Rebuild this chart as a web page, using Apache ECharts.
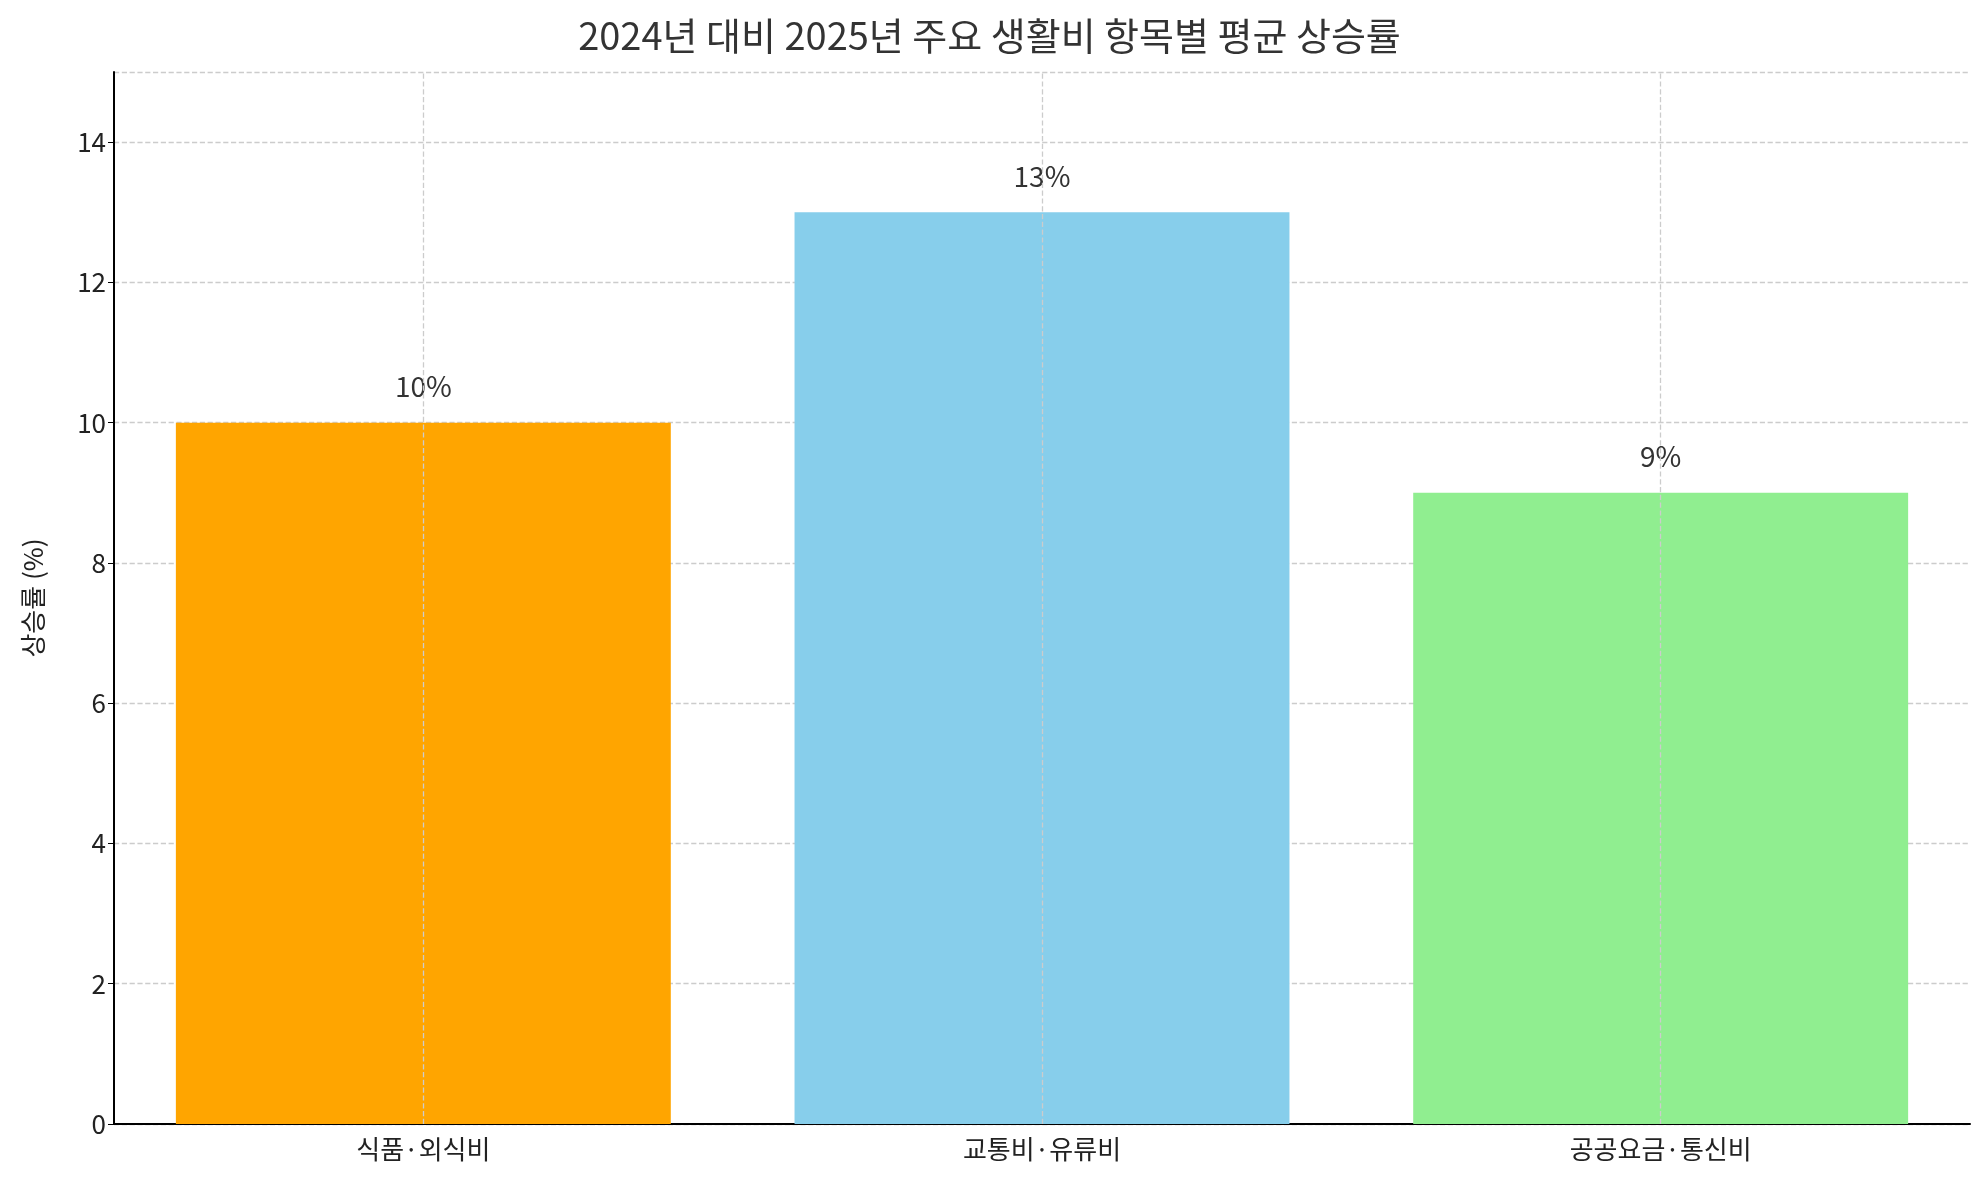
<!DOCTYPE html>
<html><head><meta charset="utf-8">
<script src="https://cdn.jsdelivr.net/npm/echarts@6/dist/echarts.min.js"></script>
<style>html,body{margin:0;padding:0;background:#fff}#c{width:1979px;height:1180px}</style>
</head><body><div id="c"></div>
<script>
const categories = ['식품·외식비','교통비·유류비','공공요금·통신비'];
const values = [10, 13, 9];
const colors = ['#FFA500','#87CEEB','#90EE90'];
const F = '"Noto Sans CJK KR","Noto Sans",sans-serif';
const chart = echarts.init(document.getElementById('c'));
chart.setOption({
  backgroundColor:'#fff',
  animation:false,
  title:{text:'2024년 대비 2025년 주요 생활비 항목별 평균 상승률',left:'center',top:12,
    textStyle:{fontFamily:F,fontSize:38,fontWeight:'normal',color:'#333'}},
  grid:{left:114,right:9,top:72,bottom:56},
  xAxis:{type:'category',data:categories,
    axisLine:{lineStyle:{color:'#000',width:2}},
    axisTick:{alignWithLabel:true,length:6,lineStyle:{color:'#000'}},
    axisLabel:{fontFamily:F,fontSize:26,color:'#222',margin:12},
    splitLine:{show:false}},
  yAxis:{type:'value',min:0,max:15,interval:2,name:'상승률 (%)',nameLocation:'middle',nameGap:68,
    nameTextStyle:{fontFamily:F,fontSize:26,color:'#222'},
    axisLine:{show:true,lineStyle:{color:'#000',width:2}},
    axisTick:{show:true,length:6,lineStyle:{color:'#000'}},
    axisLabel:{fontFamily:F,fontSize:26,color:'#222',showMaxLabel:false},
    splitLine:{lineStyle:{type:'dashed',color:'#ccc',width:1.3}}},
  series:[{type:'bar',barCategoryGap:'20%',
    data:values.map((v,i)=>({value:v,itemStyle:{color:colors[i]}})),
    label:{show:true,position:'top',distance:22,formatter:p=>p.value+'%',fontFamily:F,fontSize:28,color:'#333'},
    markLine:{silent:true,symbol:'none',label:{show:false},
      lineStyle:{type:'dashed',color:'#ccc',width:1.3},
      data:categories.map(c=>({xAxis:c}))}
  }]
});
</script></body></html>
